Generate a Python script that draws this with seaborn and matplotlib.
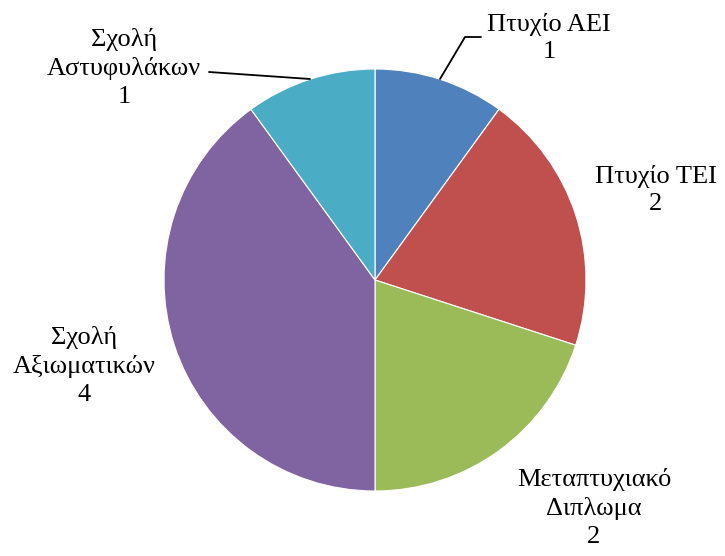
import numpy as np
import matplotlib
matplotlib.use('Agg')
import matplotlib.pyplot as plt
import seaborn as sns

# ── Données ───────────────────────────────────────────────────────────────
labels = ['Πτυχίο ΑΕΙ', 'Πτυχίο ΤΕΙ', 'Μεταπτυχιακό\nΔιπλωμα',
          'Σχολή\nΑξιωματικών', 'Σχολή\nΑστυφυλάκων']
values = [1, 2, 2, 4, 1]
colors = ['#4F81BD', '#C0504D', '#9BBB59', '#8064A2', '#4BACC6']

sns.set_theme(style='white')
plt.rcParams['font.family'] = ['Liberation Serif', 'DejaVu Serif']

W, H = 725, 556
fig = plt.figure(figsize=(W / 100, H / 100), dpi=100)
ax = fig.add_axes([0, 0, 1, 1])

cx, cy, r = 375, H - 280, 211
ax.pie(values, colors=colors, startangle=90, counterclock=False,
       center=(cx, cy), radius=r, frame=True,
       wedgeprops=dict(edgecolor='white', linewidth=0.8))
ax.set_xlim(0, W)
ax.set_ylim(0, H)
ax.set_aspect('auto')
ax.axis('off')

# ── Étiquettes ───────────────────────────────────────────────────────────
pos = [(549, 38), (656, 190), (594, 508), (84, 366), (124, 68)]
for lab, v, (px, py) in zip(labels, values, pos):
    ax.text(px, H - py, f'{lab}\n{v}', ha='center', va='center',
            fontsize=19, linespacing=1.35, color='black')

# lignes de rappel
ax.plot([440, 465, 481], [H - 79, H - 37, H - 37], color='black', lw=1.3)
ax.plot([310, 209], [H - 79, H - 72], color='black', lw=1.3)

plt.savefig('out.png', dpi=100)
plt.close()
